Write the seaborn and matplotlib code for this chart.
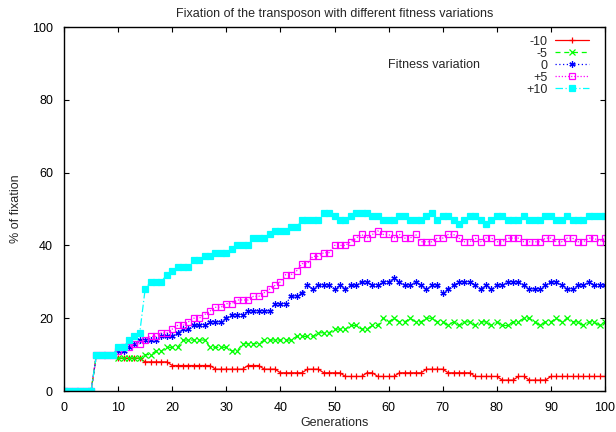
import matplotlib
matplotlib.use("Agg")
import matplotlib.pyplot as plt
import seaborn as sns
import pandas as pd

# generations 0..100
generations = list(range(101))

# % of fixation per generation for each fitness variation
fix_m10 = ([0] * 6 + [10] * 4 + [9] * 5 + [8] * 5 + [7] * 8 + [6] * 6 + [7] * 3 + [6] * 3
           + [5] * 5 + [6] * 3 + [5] * 4 + [4] * 4 + [5] * 2 + [4] * 4 + [5] * 5 + [6] * 4
           + [5] * 5 + [4] * 5 + [3] * 3 + [4] * 2 + [3] * 4 + [4] * 11)
fix_m5 = ([0] * 6 + [10] * 4 + [9] * 5 + [10] * 2 + [11] * 2 + [12] * 3 + [14] * 5 + [12] * 4
          + [11] * 2 + [13] * 4 + [14] * 6 + [15] * 4 + [16] * 3 + [17] * 3 + [18] * 2 + [17] * 2
          + [18] * 2
          + [20, 19, 20, 19, 19, 20, 19, 19, 20, 20, 19, 19, 18, 19, 18, 19, 19, 18, 19, 19, 18,
             19, 18, 18, 19, 19, 20, 20, 19, 18, 19, 19, 20, 19, 20, 19, 19, 18, 19, 19, 18, 19])
fix_0 = ([0] * 6 + [10] * 4 + [11, 11, 12, 13] + [14] * 4 + [15] * 3 + [16] + [17] * 2 + [18] * 3
         + [19] * 3 + [20] + [21] * 3 + [22] * 5 + [24] * 3 + [26] * 2 + [27]
         + [29, 28, 29, 29, 29, 28, 29, 28, 29, 29, 30, 30, 29, 29, 30, 30, 31, 30, 29, 29, 30,
            29, 28, 29, 29, 27, 28, 29, 30, 30, 30, 29, 28, 29, 28, 29, 29, 30, 30, 30, 29, 28,
            28, 28, 29, 30, 30, 29, 28, 28, 29, 29, 30, 29, 29, 29])
fix_p5 = ([0] * 6 + [10] * 4
          + [11, 12, 12, 13, 13, 14, 15, 15, 16, 16, 17, 18, 18, 19, 20, 20, 21, 22, 23, 23,
             24, 24, 25, 25, 25, 26, 26, 27, 28, 29, 30, 32, 32, 33, 35, 35, 37, 37, 38, 38,
             40, 40, 40, 41, 42, 43, 42, 43, 44, 43, 43, 42, 43, 42, 42, 43, 41, 41, 41, 42,
             42, 43, 43, 42, 41, 41, 42, 41, 42, 42, 41, 41, 42, 42, 42, 41, 41, 41, 41, 42,
             42, 41, 41, 42, 42, 41, 41, 42, 42, 41, 42])
fix_p10 = ([0] * 6 + [10] * 4
           + [12, 12, 14, 15, 16, 28, 30, 30, 30, 32, 33, 34, 34, 34, 36, 36, 37, 37, 38, 38,
              38, 39, 40, 40, 40, 42, 42, 42, 43, 44, 44, 44, 45, 45, 47, 47, 47, 47, 49, 49,
              48, 47, 47, 48, 49, 49, 49, 48, 48, 47, 47, 47, 48, 48, 47, 47, 47, 48, 49, 47,
              48, 48, 47, 46, 47, 48, 48, 47, 46, 47, 48, 48, 47, 47, 47, 48, 47, 47, 47, 48,
              48, 47, 47, 48, 47, 47, 47, 48, 48, 48, 48])

labels = ["-10", "-5", "0", "+5", "+10"]
series = [fix_m10, fix_m5, fix_0, fix_p5, fix_p10]
colors = ["#ff0000", "#00ff00", "#0000ff", "#ff00ff", "#00ffff"]
linestyles = ["-", (0, (4, 3)), (0, (1, 2)), (0, (1, 1.5)), (0, (6, 2, 1, 2))]
markers = ["+", "x", (6, 2, 0), "s", "s"]
marker_sizes = [5, 4.5, 4.5, 4.8, 5.0]
marker_faces = ["#ff0000", "#00ff00", "#0000ff", "none", "#00ffff"]

sns.set_style("ticks")
plt.rcParams["font.family"] = ["Liberation Sans", "DejaVu Sans"]
plt.rcParams["font.size"] = 9

fig = plt.figure(figsize=(6.16, 4.32), dpi=100)
ax = fig.add_axes([64 / 616, 1 - 391 / 432, 541 / 616, 364 / 432])

for lab, vals, col, ls, mk, ms, mf in zip(labels, series, colors, linestyles, markers,
                                          marker_sizes, marker_faces):
    df = pd.DataFrame({"Generations": generations, "fix": vals})
    sns.lineplot(data=df, x="Generations", y="fix", ax=ax, color=col, linestyle=ls,
                 linewidth=0.9, marker=mk, markersize=ms, markerfacecolor=mf,
                 markeredgecolor=col, markeredgewidth=0.9, label=lab)

ax.set_xlim(0, 100)
ax.set_ylim(0, 100)
ax.set_xticks(range(0, 101, 10))
ax.set_yticks(range(0, 101, 20))
ax.tick_params(direction="in", length=3.6, width=0.8, top=True, right=True,
               labelsize=9, colors="black", pad=8)
for sp in ax.spines.values():
    sp.set_visible(True)
    sp.set_linewidth(1.0)
    sp.set_color("black")

ax.set_title("Fixation of the transposon with different fitness variations", fontsize=9, pad=7)
ax.set_xlabel("Generations", fontsize=9, labelpad=2)
ax.set_ylabel("% of fixation", fontsize=9, labelpad=7)

leg = ax.legend(loc="upper right", bbox_to_anchor=(0.987, 1.0), frameon=False, markerfirst=False,
                handlelength=2.7, labelspacing=0.0, handletextpad=0.65, borderaxespad=0.3,
                fontsize=9)
ax.text(59.9, 89.5, "Fitness variation", fontsize=9, ha="left", va="center")

fig.savefig("out.png", dpi=100)
